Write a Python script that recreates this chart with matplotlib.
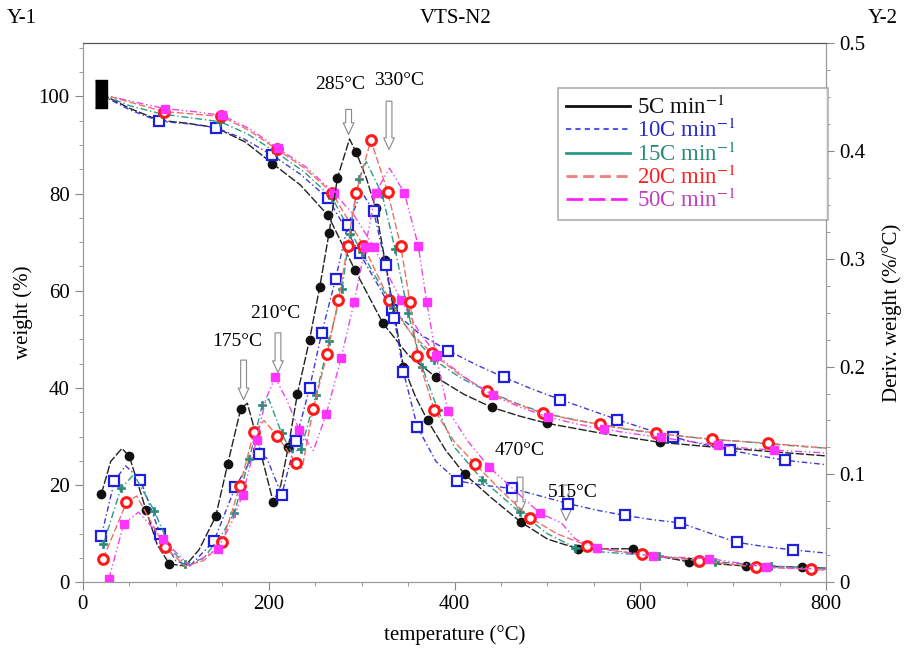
import matplotlib
matplotlib.use('Agg')
import matplotlib.pyplot as plt
from matplotlib.lines import Line2D
from matplotlib.ticker import MultipleLocator

plt.rcParams['font.family'] = ['Liberation Serif', 'DejaVu Serif']
plt.rcParams['mathtext.fontset'] = 'stix'

# --- weight curves (left axis, %) ---
t5_w = [20, 50, 82, 112, 143, 175, 204, 234, 264, 293, 323, 350, 380, 410, 440, 470, 500, 560, 621, 680, 740, 800]
w5 = [100.5, 97.6, 95.1, 94.5, 93.6, 90.6, 86.2, 81.8, 75.5, 64.2, 53.3, 46.8, 42.2, 38.7, 36.0, 34.2, 32.7, 30.6, 28.8, 27.8, 26.9, 26.0]

t10_w = [20, 50, 82, 112, 143, 174, 204, 234, 264, 298, 333, 363, 393, 423, 453, 483, 514, 545, 575, 605, 635, 665, 696, 726, 756, 800]
w10 = [100.3, 97.3, 94.9, 94.4, 93.6, 91.2, 87.9, 84.0, 79.0, 67.7, 56.0, 51.0, 47.7, 44.8, 42.2, 39.8, 37.6, 35.5, 33.5, 31.6, 29.9, 28.5, 27.2, 26.1, 25.1, 24.2]

t15_w = [20, 52, 85, 116, 148, 178, 208, 238, 268, 300, 334, 356, 378, 407, 437, 467, 497, 528, 558, 588, 618, 648, 678, 708, 738, 770, 800]
w15 = [100.4, 98.0, 96.4, 95.6, 94.8, 92.2, 88.5, 84.5, 79.2, 68.0, 56.4, 50.5, 45.8, 42.0, 39.2, 36.8, 34.8, 33.5, 32.4, 31.4, 30.6, 30.0, 29.4, 29.0, 28.5, 28.0, 27.6]

t20_w = [20, 55, 87, 118, 149, 179, 209, 239, 268, 302, 330, 352, 376, 405, 435, 465, 495, 526, 557, 587, 617, 647, 677, 707, 737, 770, 800]
w20 = [100.5, 98.6, 96.9, 96.4, 95.9, 93.0, 89.1, 85.2, 80.2, 69.3, 58.0, 51.5, 47.1, 42.8, 39.3, 36.8, 34.8, 33.5, 32.5, 31.5, 30.7, 30.0, 29.4, 29.0, 28.6, 28.1, 27.6]

t50_w = [20, 55, 88, 119, 150, 180, 210, 240, 270, 292, 313, 342, 362, 381, 411, 441, 471, 501, 531, 561, 591, 622, 652, 683, 713, 744, 800]
w50 = [100.4, 98.9, 97.5, 96.9, 96.1, 93.3, 89.3, 85.5, 80.2, 75.5, 69.1, 58.2, 51.5, 46.7, 42.2, 38.5, 36.0, 34.0, 32.6, 31.5, 30.6, 29.8, 29.0, 28.2, 27.6, 27.2, 26.6]

# --- derivative curves (right axis, %/°C) ---
t5_d = [20, 30, 42, 50, 68, 80, 93, 110, 125, 143, 156, 170, 177, 190, 205, 213, 221, 231, 244, 255,
        265, 274, 287, 294, 305, 315, 325, 335, 345, 358, 371, 390, 411, 440, 471, 500, 533, 560, 592, 620,
        652, 714, 774, 800]
d5 = [0.082, 0.112, 0.124, 0.117, 0.067, 0.035, 0.017, 0.015, 0.030, 0.061, 0.110, 0.161, 0.166, 0.125, 0.074,
      0.090, 0.125, 0.175, 0.225, 0.274, 0.324, 0.375, 0.411, 0.399, 0.375, 0.347, 0.299, 0.250, 0.200, 0.172,
      0.150, 0.123, 0.100, 0.078, 0.056, 0.040, 0.031, 0.031, 0.031, 0.024, 0.019, 0.015, 0.014, 0.013]

t10_d = [20, 34, 46, 62, 83, 100, 115, 141, 164, 180, 190, 198, 214, 229, 244, 257, 272, 285, 300, 313,
         326, 335, 345, 360, 380, 403, 430, 462, 492, 522, 552, 583, 613, 643, 673, 704, 734, 764, 800]
d10 = [0.043, 0.094, 0.108, 0.095, 0.045, 0.020, 0.015, 0.038, 0.088, 0.112, 0.119, 0.115, 0.081, 0.131, 0.180,
       0.231, 0.281, 0.331, 0.362, 0.344, 0.294, 0.245, 0.195, 0.144, 0.112, 0.094, 0.090, 0.087, 0.080, 0.073,
       0.067, 0.062, 0.058, 0.055, 0.046, 0.037, 0.033, 0.030, 0.027]

t15_d = [22, 41, 55, 77, 95, 110, 130, 150, 163, 179, 193, 200, 214, 225, 235, 251, 265, 279, 287, 297,
         305, 322, 336, 350, 365, 382, 400, 430, 470, 500, 530, 560, 620, 680, 740, 800]
d15 = [0.035, 0.087, 0.100, 0.066, 0.030, 0.017, 0.022, 0.045, 0.064, 0.114, 0.164, 0.170, 0.138, 0.120, 0.124,
       0.174, 0.224, 0.272, 0.323, 0.374, 0.390, 0.360, 0.309, 0.250, 0.200, 0.160, 0.125, 0.095, 0.065, 0.045,
       0.032, 0.028, 0.024, 0.019, 0.015, 0.013]

t20_d = [22, 47, 58, 88, 110, 130, 150, 169, 184, 195, 209, 229, 236, 248, 263, 275, 285, 294, 310, 328,
         342, 352, 360, 378, 400, 422, 450, 481, 510, 543, 572, 602, 663, 724, 784, 800]
d20 = [0.022, 0.074, 0.080, 0.033, 0.015, 0.020, 0.037, 0.089, 0.139, 0.150, 0.136, 0.111, 0.106, 0.161, 0.212,
       0.262, 0.312, 0.361, 0.410, 0.362, 0.312, 0.260, 0.210, 0.160, 0.130, 0.110, 0.085, 0.060, 0.045, 0.034,
       0.029, 0.026, 0.020, 0.014, 0.012, 0.011]

t50_d = [28, 44, 60, 86, 115, 145, 160, 172, 187, 197, 207, 220, 233, 248, 262, 278, 292, 304, 315, 330,
         346, 361, 370, 380, 393, 415, 437, 465, 492, 515, 530, 553, 614, 674, 735, 800]
d50 = [0.003, 0.054, 0.065, 0.040, 0.015, 0.031, 0.055, 0.081, 0.132, 0.170, 0.190, 0.168, 0.141, 0.122, 0.156,
       0.208, 0.260, 0.311, 0.361, 0.384, 0.361, 0.312, 0.260, 0.210, 0.159, 0.130, 0.107, 0.085, 0.064, 0.055,
       0.040, 0.032, 0.024, 0.022, 0.014, 0.012]

labels = ['5C min$^{-1}$', '10C min$^{-1}$', '15C min$^{-1}$', '20C min$^{-1}$', '50C min$^{-1}$']

# peak annotations: (text, arrow x, arrow tail y, arrow tip y, text x, text y)
peaks = [('285°C', 286, 97.9, 91.6, 277, 102.5),
         ('330°C', 329.5, 99.6, 88.5, 340, 103.3),
         ('175°C', 173, 46.3, 37.0, 166, 49.6),
         ('210°C', 210, 51.9, 42.6, 207, 55.3),
         ('470°C', 470.5, 22.2, 13.6, 470.5, 27.2),
         ('515°C', 520, 20.6, 12.1, 527.6, 18.5)]

styles = [
    dict(color='#222222', ls=(0, (6, 1.5)), marker='o', ms=6, mfc='#111111', mec='#111111', mew=1),
    dict(color='#3a3ad8', ls=(0, (4, 2, 1, 2)), marker='s', ms=6.5, mfc='white', mec='#1f1fe0', mew=1.6),
    dict(color='#2a9a86', ls=(0, (5, 2, 1, 2)), marker='P', ms=6, mfc='#2a8a78', mec='#2a8a78', mew=0.5),
    dict(color='#f07060', ls=(0, (5, 2)), marker='o', ms=7, mfc='white', mec='#ff1a1a', mew=2.2),
    dict(color='#ee44ee', ls=(0, (5, 2, 1, 2, 1, 2)), marker='s', ms=6, mfc='#ff33ff', mec='#ff33ff', mew=1),
]
weights = [(t5_w, w5, [2, 4, 6, 8, 9, 10, 12, 14, 16, 18]),
           (t10_w, w10, [2, 4, 6, 8, 9, 10, 12, 14, 16, 18, 20, 22, 24]),
           (t15_w, w15, [2, 4, 6, 8, 9, 10, 12, 14, 16, 18, 20, 22, 24]),
           (t20_w, w20, [2, 4, 6, 8, 9, 10, 12, 14, 16, 18, 20, 22, 24]),
           (t50_w, w50, [2, 4, 6, 8, 10, 11, 13, 15, 17, 19, 21, 23, 25])]
derivs = [(t5_d, d5, [0, 3, 4, 6, 9, 10, 11, 14, 16, 17, 18, 19, 20, 21, 23, 25, 26, 28, 30, 32, 34, 36, 38, 40, 41, 42]),
          (t10_d, d10, [0, 1, 3, 4, 7, 8, 10, 12, 13, 14, 15, 16, 17, 19, 20, 21, 22, 23, 25, 27, 29, 31, 33, 35, 37]),
          (t15_d, d15, [0, 1, 3, 5, 8, 9, 10, 12, 14, 15, 16, 17, 18, 19, 21, 22, 23, 24, 25, 27, 28, 30, 32, 33, 34]),
          (t20_d, d20, [0, 1, 3, 6, 7, 8, 10, 11, 13, 14, 15, 16, 17, 18, 19, 20, 21, 22, 23, 25, 27, 29, 31, 32, 33, 34]),
          (t50_d, d50, [0, 1, 3, 5, 7, 8, 10, 12, 14, 15, 16, 17, 18, 20, 21, 22, 23, 24, 26, 28, 31, 32, 33, 34])]

fig = plt.figure(figsize=(9.1, 6.52), dpi=100)
ax = fig.add_axes([0.091, 0.107, 0.817, 0.827])
ax2 = ax.twinx()

for (tw, w, mw), (td, d, md), st in zip(weights, derivs, styles):
    ax.plot(tw, w, lw=1, markevery=mw, **st)
    ax2.plot(td, d, lw=1, markevery=md, **st)

# stacked start markers
ax.plot([t5_w[0]], [w5[0]], ls='none', marker=[(-0.45, -1), (0.45, -1), (0.45, 1), (-0.45, 1)],
        ms=20, color='black')

ax.set_xlim(0, 800)
ax.set_ylim(0, 111)
ax2.set_ylim(0, 0.5)
ax.xaxis.set_major_locator(MultipleLocator(200))
ax.xaxis.set_minor_locator(MultipleLocator(50))
ax.yaxis.set_major_locator(MultipleLocator(20))
ax.yaxis.set_minor_locator(MultipleLocator(5))
ax2.set_yticks([0, 0.1, 0.2, 0.3, 0.4, 0.5])
ax2.set_yticklabels(['0', '0.1', '0.2', '0.3', '0.4', '0.5'])
ax2.yaxis.set_minor_locator(MultipleLocator(0.025))

for a in (ax, ax2):
    for s in a.spines.values():
        s.set_color('#999999')
    a.spines['top'].set_color('#555555')
    a.tick_params(which='both', colors='#888888', labelcolor='black', labelsize=15)
    a.tick_params(which='major', length=6)
    a.tick_params(which='minor', length=3)

ax.set_xlabel('temperature (°C)', fontsize=15, labelpad=8)
ax.set_ylabel('weight (%)', fontsize=15, labelpad=4)
ax2.set_ylabel('Deriv. weight (%/°C)', fontsize=15, labelpad=12)

for txt, xa, y0, y1, xt, yt in peaks:
    ax.annotate('', xy=(xa, y1), xytext=(xa, y0),
                arrowprops=dict(arrowstyle='simple,head_length=0.6,head_width=0.55,tail_width=0.3',
                                fc='white', ec='#888888', lw=0.8, mutation_scale=14))
    ax.text(xt, yt, txt, ha='center', va='center', fontsize=14)

fig.text(0.501, 0.972, 'VTS-N2', ha='center', va='center', fontsize=15)
fig.text(0.024, 0.972, 'Y-1', ha='center', va='center', fontsize=15)
fig.text(0.970, 0.972, 'Y-2', ha='center', va='center', fontsize=15)

leg_handles = [Line2D([], [], color='#111111', ls='-', lw=2),
               Line2D([], [], color='#5555ee', ls=(0, (2.5, 2)), lw=1.5),
               Line2D([], [], color='#2e9a85', ls='-', lw=2),
               Line2D([], [], color='#f08080', ls=(0, (4, 2)), lw=2),
               Line2D([], [], color='#ff22ff', ls=(0, (6, 2)), lw=2)]
leg = ax2.legend(leg_handles, labels, loc='upper left', bbox_to_anchor=(0.639, 0.5, 0.363, 0.4165),
                 mode='expand', fontsize=16.5, frameon=True, fancybox=False, edgecolor='#999999',
                 borderaxespad=0, handlelength=2.8, handletextpad=0.3, labelspacing=0.0, borderpad=0.35)
leg.get_frame().set_linewidth(1.2)
for t, c in zip(leg.get_texts(), ['#111111', '#2b2bd0', '#2e8b74', '#ff2020', '#c040c0']):
    t.set_color(c)

fig.savefig('out.png', dpi=100)
